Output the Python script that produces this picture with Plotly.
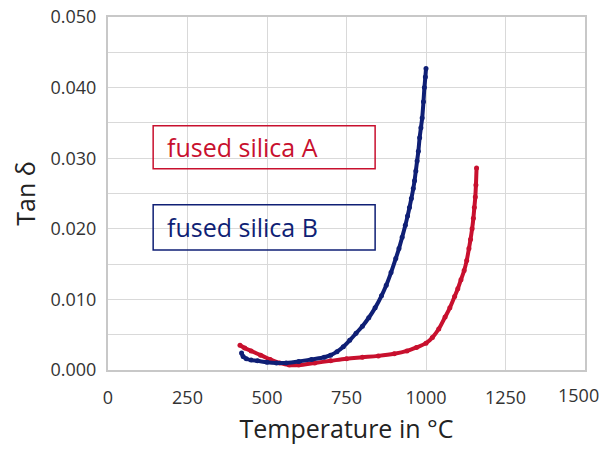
import plotly.graph_objects as go

# Fused silica B (blue)
b_temp = [420, 425, 435, 450, 470, 500, 530, 560, 600, 640, 680, 700, 720, 740, 760, 780,
          800, 820, 840, 860, 875, 890, 905, 915, 925, 935, 942, 948, 954, 960, 964, 968,
          972, 976, 980, 984, 988, 992, 995, 998, 1000]
b_tan = [0.0024, 0.0019, 0.0016, 0.0014, 0.0013, 0.0011, 0.0010, 0.0010, 0.0012, 0.0015,
         0.0018, 0.0021, 0.0026, 0.0033, 0.0042, 0.0052, 0.0062, 0.0074, 0.0088, 0.0105,
         0.0120, 0.0138, 0.0158, 0.0172, 0.0188, 0.0205, 0.0218, 0.0230, 0.0243, 0.0257,
         0.0268, 0.0282, 0.0296, 0.0310, 0.0329, 0.0343, 0.0357, 0.0380, 0.0400, 0.0415, 0.0427]

# Fused silica A (red)
a_temp = [415, 430, 450, 480, 510, 540, 570, 600, 650, 700, 750, 800, 850, 900, 940, 970,
          1000, 1020, 1040, 1060, 1075, 1090, 1100, 1110, 1120, 1128, 1135, 1140, 1145, 1149,
          1152, 1155, 1157, 1159]
a_tan = [0.0035, 0.0031, 0.0027, 0.0021, 0.0015, 0.0010, 0.0007, 0.0007, 0.0010, 0.0013,
         0.0016, 0.0018, 0.0020, 0.0023, 0.0027, 0.0032, 0.0038, 0.0046, 0.0058, 0.0075,
         0.0088, 0.0104, 0.0115, 0.0128, 0.0141, 0.0155, 0.0172, 0.0185, 0.0200, 0.0215,
         0.0230, 0.0245, 0.0262, 0.0286]

x_ticks = [0, 250, 500, 750, 1000, 1250, 1500]
x_labels = ["0", "250", "500", "750", "1000", "1250", "1500"]
y_ticks = [0.0, 0.01, 0.02, 0.03, 0.04, 0.05]

RED = "#c8102e"
BLUE = "#0f1f75"
FONT = "Open Sans"

fig = go.Figure()
fig.add_trace(go.Scatter(x=a_temp, y=a_tan, mode="lines+markers",
                         line=dict(color=RED, width=4, shape="spline"),
                         marker=dict(color=RED, size=5), showlegend=False))
fig.add_trace(go.Scatter(x=b_temp, y=b_tan, mode="lines+markers",
                         line=dict(color=BLUE, width=4, shape="spline"),
                         marker=dict(color=BLUE, size=5), showlegend=False))

# label boxes
fig.add_shape(type="rect", x0=142, x1=840, y0=0.0285, y1=0.0346,
              line=dict(color=RED, width=1.5), fillcolor="rgba(0,0,0,0)")
fig.add_shape(type="rect", x0=142, x1=840, y0=0.0170, y1=0.0234,
              line=dict(color=BLUE, width=1.5), fillcolor="rgba(0,0,0,0)")
fig.add_annotation(x=180, y=0.0316, text="fused silica A", showarrow=False,
                   xanchor="left", yanchor="middle",
                   font=dict(family=FONT, size=25, color=RED))
fig.add_annotation(x=180, y=0.0202, text="fused silica B", showarrow=False,
                   xanchor="left", yanchor="middle",
                   font=dict(family=FONT, size=25, color=BLUE))

# last x tick label drawn as annotation so it stays inside the page (as in the reference)
tick_text = x_labels[:-1] + [""]
fig.add_annotation(x=x_ticks[-1], xref="x", y=0, yref="paper", text=x_labels[-1],
                   showarrow=False, xanchor="center", yanchor="top",
                   xshift=-7, yshift=-11, font=dict(family=FONT, size=18, color="#333333"))

fig.update_layout(
    width=603, height=451,
    margin=dict(l=108, r=18, t=17, b=81),
    paper_bgcolor="white", plot_bgcolor="white",
    font=dict(family=FONT, color="#333333"),
)
fig.update_xaxes(range=[0, 1500], tickvals=x_ticks, ticktext=tick_text,
                 showgrid=True, gridcolor="#d9d9d9", gridwidth=1.2,
                 showline=True, linecolor="#c8c8c8", linewidth=2, mirror=True,
                 zeroline=False, ticks="", automargin=False, ticklabelstandoff=10,
                 tickfont=dict(size=18, color="#333333"),
                 title=dict(text="Temperature in °C", font=dict(size=25, color="#222222"),
                            standoff=13))
fig.update_yaxes(range=[0, 0.05], tickvals=y_ticks, tickformat=".3f",
                 showgrid=True, gridcolor="#d9d9d9", gridwidth=1.2,
                 minor=dict(dtick=0.005, showgrid=True, gridcolor="#d9d9d9", gridwidth=1.2),
                 showline=True, linecolor="#c8c8c8", linewidth=2, mirror=True,
                 zeroline=False, ticks="", automargin=False, ticklabelstandoff=6,
                 tickfont=dict(size=18, color="#333333"),
                 title=dict(text="Tan δ", font=dict(size=25, color="#222222"), standoff=8))

fig.write_html("out.html", config={"displayModeBar": False},
               post_script="document.body.style.margin='0px';")
